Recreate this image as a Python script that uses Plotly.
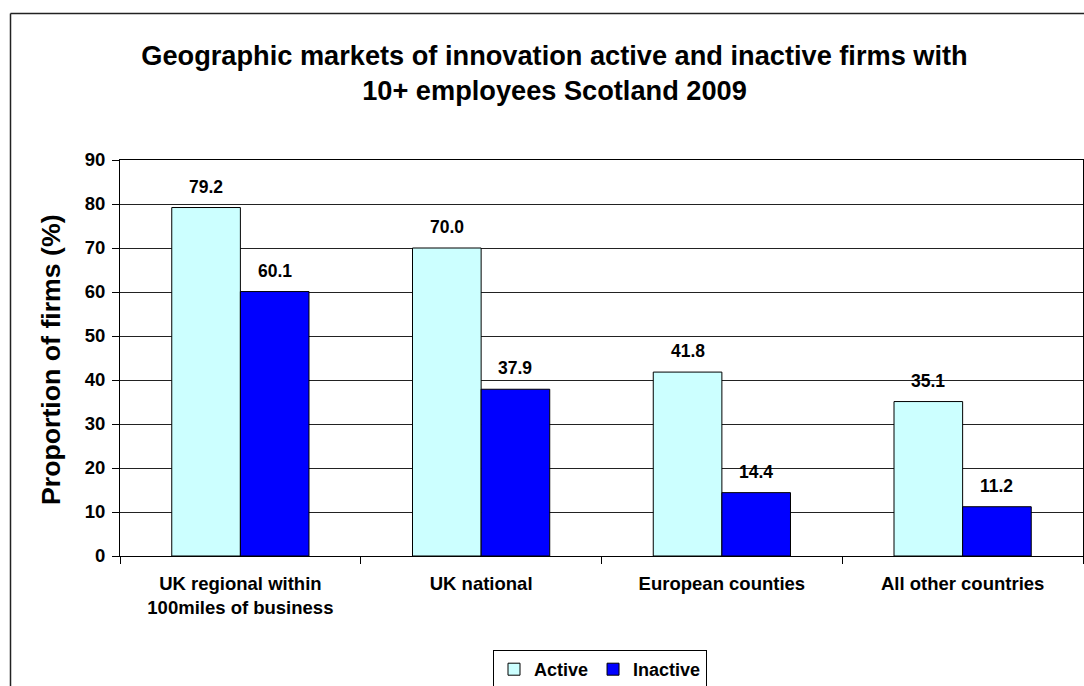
import plotly.graph_objects as go

categories = ["UK regional within<br>100miles of business", "UK national",
              "European counties", "All other countries"]
active = [79.2, 70.0, 41.8, 35.1]
inactive = [60.1, 37.9, 14.4, 11.2]
y_ticks = [0, 10, 20, 30, 40, 50, 60, 70, 80, 90]

FONT = "Liberation Sans, Arial, sans-serif"

W, H = 1084, 686
L, R, T, B = 120, 1, 160, 130
PW, PH = W - L - R, H - T - B
BARGAP = 0.43


def px_x(x):
    return (x - L) / PW


def px_y(y):
    return (H - B - y) / PH


fig = go.Figure()
fig.add_bar(name="Active", x=categories, y=active,
            marker=dict(color="#CCFFFF", line=dict(color="black", width=1)))
fig.add_bar(name="Inactive", x=categories, y=inactive,
            marker=dict(color="#0000FF", line=dict(color="black", width=1)))

# value labels above each bar
bar_w = PW / len(categories) * (1 - BARGAP) / 2
for series, shift in ((active, -bar_w / 2), (inactive, bar_w / 2)):
    for cat, val in zip(categories, series):
        fig.add_annotation(x=cat, y=val, xref="x", yref="y",
                           text=f"{val:.1f}", showarrow=False,
                           xshift=shift, yshift=9, yanchor="bottom",
                           font=dict(family=FONT, size=17.5, color="black",
                                     weight="bold"))

# vertical axis title
fig.add_annotation(x=px_x(51), y=px_y(360), xref="paper", yref="paper",
                   text="Proportion of firms (%)", textangle=-90,
                   showarrow=False, xanchor="center", yanchor="middle",
                   font=dict(family=FONT, size=26.7, color="black",
                             weight="bold"))

fig.update_layout(
    width=W, height=H,
    margin=dict(l=L, r=R, t=T, b=B, autoexpand=False),
    paper_bgcolor="white", plot_bgcolor="white",
    barmode="group", bargap=BARGAP, bargroupgap=0,
    font=dict(family=FONT, color="black"),
    title=dict(text="Geographic markets of innovation active and inactive firms with<br>10+ employees Scotland 2009",
               xref="container", yref="container",
               x=554.5 / W, xanchor="center", y=1 - 65 / H, yanchor="middle",
               font=dict(family=FONT, size=27.2, color="black", weight="bold")),
    showlegend=True,
    legend=dict(orientation="h", x=px_x(600), xanchor="center",
                y=px_y(650), yanchor="top",
                bordercolor="black", borderwidth=1, bgcolor="white",
                font=dict(family=FONT, size=18, color="black", weight="bold"),
                traceorder="normal", itemwidth=30),
)

fig.update_xaxes(
    showline=True, linecolor="black", linewidth=1, mirror=True,
    ticks="outside", tickson="boundaries", ticklen=7, tickcolor="black",
    tickfont=dict(family=FONT, size=18.5, color="black", weight="bold"),
    ticklabelstandoff=11,
    showgrid=False,
)
fig.update_yaxes(
    range=[0, 90], tickvals=y_ticks,
    showline=True, linecolor="black", linewidth=1, mirror=True,
    ticks="outside", ticklen=7, tickcolor="black",
    tickfont=dict(family=FONT, size=18.5, color="black", weight="bold"),
    ticklabelstandoff=3,
    showgrid=True, gridcolor="#222222", gridwidth=1, zeroline=False,
)

# outer chart frame (left and top edges)
fig.add_shape(type="line", xref="paper", yref="paper",
              x0=px_x(10.5), x1=px_x(1090), y0=px_y(13.5), y1=px_y(13.5),
              line=dict(color="#222222", width=1.5))
fig.add_shape(type="line", xref="paper", yref="paper",
              x0=px_x(10.5), x1=px_x(10.5), y0=px_y(13.5), y1=px_y(700),
              line=dict(color="#222222", width=1.5))

fig.write_html("out.html")
